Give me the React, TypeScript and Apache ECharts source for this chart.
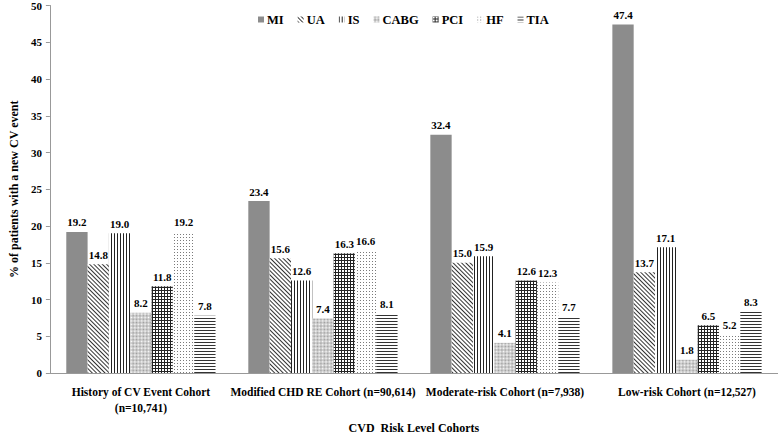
import React, { useEffect, useRef } from "react";
import * as echarts from "echarts";

const categories = [
  "History of CV Event Cohort\n(n=10,741)",
  "Modified CHD RE Cohort (n=90,614)",
  "Moderate-risk Cohort (n=7,938)",
  "Low-risk Cohort (n=12,527)",
];
const seriesNames = ["MI", "UA", "IS", "CABG", "PCI", "HF", "TIA"];
const miValues = [19.2, 23.4, 32.4, 47.4];
const uaValues = [14.8, 15.6, 15.0, 13.7];
const isValues = [19.0, 12.6, 15.9, 17.1];
const cabgValues = [8.2, 7.4, 4.1, 1.8];
const pciValues = [11.8, 16.3, 12.6, 6.5];
const hfValues = [19.2, 16.6, 12.3, 5.2];
const tiaValues = [7.8, 8.1, 7.7, 8.3];
const yTicks = { min: 0, max: 50, interval: 5 };

const FONT = "Liberation Serif";

const styles: any[] = [
  { color: "#8c8c8c", decal: { symbol: "none" } },
  {
    color: "#ffffff",
    decal: { symbol: "rect", color: "#333", dashArrayX: [1, 0], dashArrayY: [1, 1.5], rotation: Math.PI / 4, symbolSize: 1 },
  },
  {
    color: "#ffffff",
    decal: { symbol: "rect", color: "#222", dashArrayX: [1, 2], dashArrayY: [10, 0], rotation: 0, symbolSize: 1 },
  },
  {
    color: "#ffffff",
    decal: { symbol: "rect", color: "#999", dashArrayX: [[1, 1], [0, 1, 1, 0]], dashArrayY: [1, 0], rotation: Math.PI / 4, symbolSize: 1 },
  },
  {
    color: "#222",
    decal: { symbol: "rect", color: "#ffffff", dashArrayX: [2, 1], dashArrayY: [2, 1], rotation: 0, symbolSize: 1 },
  },
  {
    color: "#ffffff",
    decal: { symbol: "rect", color: "#7a7a7a", dashArrayX: [1, 2], dashArrayY: [1, 2], rotation: 0, symbolSize: 1 },
  },
  {
    color: "#ffffff",
    decal: { symbol: "rect", color: "#333", dashArrayX: [1, 0], dashArrayY: [1, 2], rotation: 0, symbolSize: 1 },
  },
];

const allValues = [miValues, uaValues, isValues, cabgValues, pciValues, hfValues, tiaValues];

export default function App() {
  const ref = useRef<HTMLDivElement>(null);
  useEffect(() => {
    if (!ref.current) return;
    const chart = echarts.init(ref.current, undefined, { renderer: "svg" });
    chart.setOption({
      animation: false,
      aria: { enabled: true, decal: { show: true } },
      textStyle: { fontFamily: FONT },
      legend: {
        top: 8,
        left: 253,
        icon: "rect",
        itemWidth: 6,
        itemHeight: 6,
        itemGap: 14,
        textStyle: { fontFamily: FONT, fontWeight: "bold", fontSize: 12.5, color: "#000", padding: [0, 0, 0, -2] },
        data: seriesNames,
      },
      grid: { left: 46, right: 0, top: 5, bottom: 53, containLabel: false },
      xAxis: {
        type: "category",
        data: categories,
        axisLine: { lineStyle: { color: "#999" } },
        axisTick: { lineStyle: { color: "#999" }, length: 4 },
        axisLabel: { fontFamily: FONT, fontWeight: "bold", fontSize: 11.5, color: "#000", margin: 11, lineHeight: 16, interval: 0 },
        name: "CVD  Risk Level Cohorts",
        nameLocation: "middle",
        nameGap: 49,
        nameTextStyle: { fontFamily: FONT, fontWeight: "bold", fontSize: 12, color: "#000" },
      },
      yAxis: {
        type: "value",
        min: yTicks.min,
        max: yTicks.max,
        interval: yTicks.interval,
        splitLine: { show: false },
        axisLine: { show: true, lineStyle: { color: "#999" } },
        axisTick: { show: true, lineStyle: { color: "#999" }, length: 4 },
        axisLabel: { fontFamily: FONT, fontWeight: "bold", fontSize: 11, color: "#000", margin: 8 },
        name: "% of patients with a new CV event",
        nameLocation: "middle",
        nameGap: 29,
        nameTextStyle: { fontFamily: FONT, fontWeight: "bold", fontSize: 12, color: "#000" },
      },
      series: seriesNames.map((name, i) => ({
        name,
        type: "bar",
        data: allValues[i],
        barGap: "0%",
        barCategoryGap: "18%",
        itemStyle: { color: styles[i].color, decal: styles[i].decal },
        label: {
          show: true,
          position: "top",
          distance: 4,
          formatter: (p: any) => Number(p.value).toFixed(1),
          fontFamily: FONT,
          fontWeight: "bold",
          fontSize: 11,
          color: "#000",
        },
      })),
    });
    return () => chart.dispose();
  }, []);
  return <div ref={ref} style={{ width: 778, height: 439, position: "absolute", left: 0, top: 0 }} />;
}
